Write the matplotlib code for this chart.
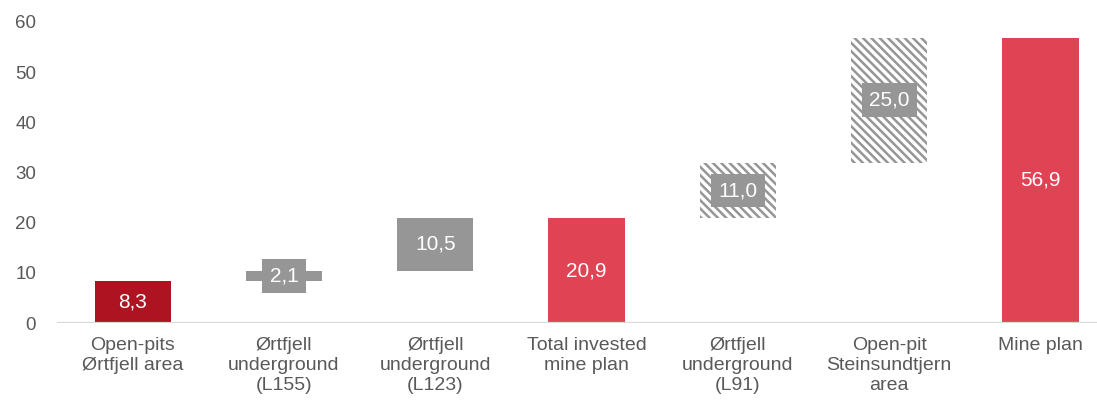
import numpy as np
import matplotlib.pyplot as plt

# Waterfall data
categories = ['Open-pits\nØrtfjell area', 'Ørtfjell\nunderground\n(L155)', 'Ørtfjell\nunderground\n(L123)',
              'Total invested\nmine plan', 'Ørtfjell\nunderground\n(L91)', 'Open-pit\nSteinsundtjern\narea',
              'Mine plan']
values = [8.3, 2.1, 10.5, 20.9, 11.0, 25.0, 56.9]
kinds = ['start', 'step', 'step', 'total', 'future', 'future', 'total']
labels = ['8,3', '2,1', '10,5', '20,9', '11,0', '25,0', '56,9']

colors = {'start': '#AD1321', 'step': '#969696', 'total': '#E04354', 'future': 'white'}
label_bg = {'start': '#AD1321', 'step': '#969696', 'total': '#E04354', 'future': '#969696'}

plt.rcParams['font.family'] = ['Liberation Sans', 'DejaVu Sans']
plt.rcParams['hatch.linewidth'] = 1.8

fig = plt.figure(figsize=(10.97, 4.09), dpi=100)
ax = fig.add_axes([57 / 1097, 1 - 323 / 409, 1040 / 1097, 301 / 409])

# running totals give the bottoms of the step bars
bottoms = []
running = 0.0
for v, k in zip(values, kinds):
    if k in ('start', 'total'):
        bottoms.append(0.0)
        running = v
    else:
        bottoms.append(running)
        running += v

x = np.arange(len(categories))
for i in range(len(values)):
    k = kinds[i]
    if k == 'future':
        ax.bar(x[i], values[i], bottom=bottoms[i], width=0.503, color='white',
               edgecolor='#969696', hatch='\\\\\\\\', linewidth=0, zorder=2)
    else:
        ax.bar(x[i], values[i], bottom=bottoms[i], width=0.503, color=colors[k],
               linewidth=0, zorder=2)
    ax.text(x[i], bottoms[i] + values[i] / 2, labels[i], ha='center', va='center',
            color='white', fontsize=15, zorder=4,
            bbox=dict(boxstyle='square,pad=0.35', fc=label_bg[k], ec='none'))

ax.axhline(0, color='#D9D9D9', lw=1.6, zorder=3)

ax.set_xlim(-0.5, 1040 / 151.3 - 0.5)
ax.set_ylim(0, 60)
ax.set_yticks(range(0, 61, 10))
ax.set_xticks(x)
ax.set_xticklabels(categories, fontsize=14, color='#595959', linespacing=1.25)
ax.tick_params(axis='y', labelsize=13.5, labelcolor='#595959', length=0, pad=15)
ax.tick_params(axis='x', length=0, pad=10)
for s in ax.spines.values():
    s.set_visible(False)

fig.savefig('out.png', dpi=100)
